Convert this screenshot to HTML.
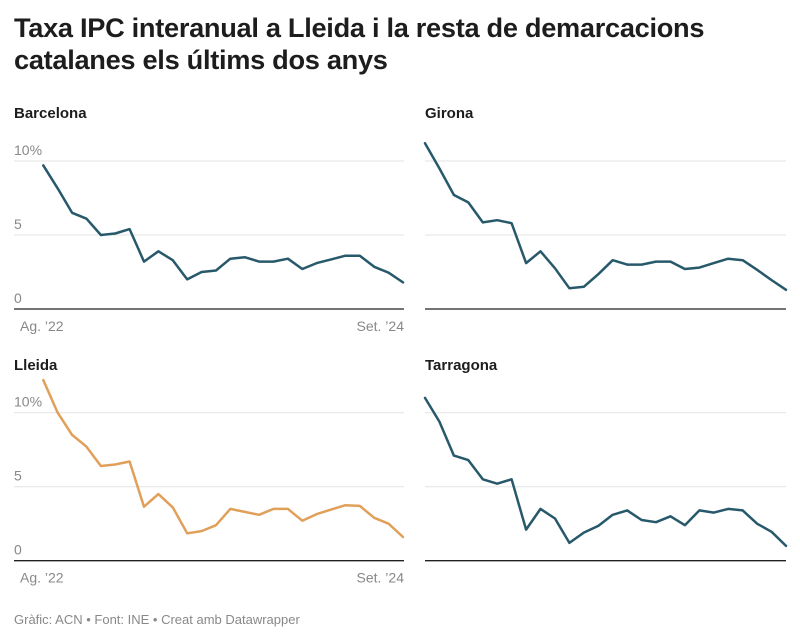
<!DOCTYPE html>
<html><head><meta charset="utf-8">
<style>
body{margin:0;background:#fff;width:800px;height:642px;overflow:hidden;font-family:"Liberation Sans",sans-serif;}
h1{position:absolute;left:14px;top:12px;margin:0;font-size:27.2px;line-height:32px;font-weight:bold;color:#1d1d1d;letter-spacing:-0.3px;}
.foot{position:absolute;left:14px;top:612px;font-size:13px;color:#888;}
svg{position:absolute;left:0;top:0;}
</style></head><body>
<h1>Taxa IPC interanual a Lleida i la resta de demarcacions<br>catalanes els últims dos anys</h1>
<svg id="chart" width="800" height="642"></svg>
<div class="foot">Gràfic: ACN • Font: INE • Creat amb Datawrapper</div>
<script>
const regions=["Barcelona","Girona","Lleida","Tarragona"];
const barcelona=[9.7,8.15,6.5,6.1,5.0,5.1,5.4,3.2,3.9,3.3,2.0,2.5,2.6,3.4,3.5,3.2,3.2,3.4,2.7,3.1,3.35,3.6,3.6,2.85,2.45,1.8];
const girona=[11.2,9.5,7.7,7.2,5.85,6.0,5.8,3.1,3.9,2.75,1.4,1.5,2.35,3.3,3.0,3.0,3.2,3.2,2.7,2.8,3.1,3.4,3.3,2.65,1.95,1.3];
const lleida=[12.2,10.0,8.5,7.7,6.4,6.5,6.7,3.65,4.5,3.6,1.85,2.0,2.4,3.5,3.3,3.1,3.5,3.5,2.7,3.15,3.45,3.75,3.7,2.9,2.5,1.6];
const tarragona=[11.0,9.4,7.1,6.8,5.5,5.2,5.5,2.1,3.5,2.85,1.2,1.9,2.35,3.1,3.4,2.75,2.6,3.0,2.4,3.4,3.25,3.5,3.4,2.5,1.95,1.0];
const yTicks=[0,5,10];
const yTickLabels=["0","5","10%"];
const xLabels=["Ag. ’22","Set. ’24"];
const series=[barcelona,girona,lleida,tarragona];
const colors=["#27596b","#27596b","#e0a05a","#27596b"];
const svg=document.getElementById('chart');
const NS="http://www.w3.org/2000/svg";
function mk(t,a){const e=document.createElementNS(NS,t);for(const k in a)e.setAttribute(k,a[k]);svg.appendChild(e);return e;}
const panels=[{gx0:14,gx1:404,lx0:43.3,lx1:403,base:309,title:118},{gx0:425,gx1:786,lx0:425,lx1:786,base:309,title:118},{gx0:14,gx1:404,lx0:43.3,lx1:403,base:560.7,title:370},{gx0:425,gx1:786,lx0:425,lx1:786,base:560.7,title:370}];
const scale=14.8;
panels.forEach((p,i)=>{
  const d=series[i];
  const y=v=>p.base-v*scale;
  const x=j=>p.lx0+(p.lx1-p.lx0)*j/(d.length-1);
  let t=mk('text',{x:p.gx0,y:p.title,'font-size':15,'font-weight':'bold',fill:'#1d1d1d'});
  t.textContent=regions[i];
  
  
  yTicks.forEach((v,k)=>{
    if(v>0){const g=mk('line',{x1:p.gx0,x2:p.gx1,y1:y(v),y2:y(v),stroke:'#e3e3e3','stroke-width':1});
      
      }
    if(i%2===0){const l=mk('text',{x:p.gx0,y:y(v)-6,'font-size':14,fill:'#888'});
      l.textContent=yTickLabels[k];
      
      }
  });
  const b=mk('line',{x1:p.gx0,x2:p.gx1,y1:p.base,y2:p.base,stroke:'#222','stroke-width':1.3});
  
  
  if(i%2===0){
    const a=mk('text',{x:p.gx0+6,y:p.base+22,'font-size':14,fill:'#888'});a.textContent=xLabels[0];
    
    
    const c=mk('text',{x:p.gx1,y:p.base+22,'font-size':14,fill:'#888','text-anchor':'end'});c.textContent=xLabels[1];
    
    
  }
  const pts=d.map((v,j)=>x(j).toFixed(1)+','+y(v).toFixed(1)).join(' ');
  const pl=mk('polyline',{points:pts,fill:'none',stroke:colors[i],'stroke-width':2.5,'stroke-linejoin':'round','stroke-linecap':'round'});
  
  
});
</script>
</body></html>
